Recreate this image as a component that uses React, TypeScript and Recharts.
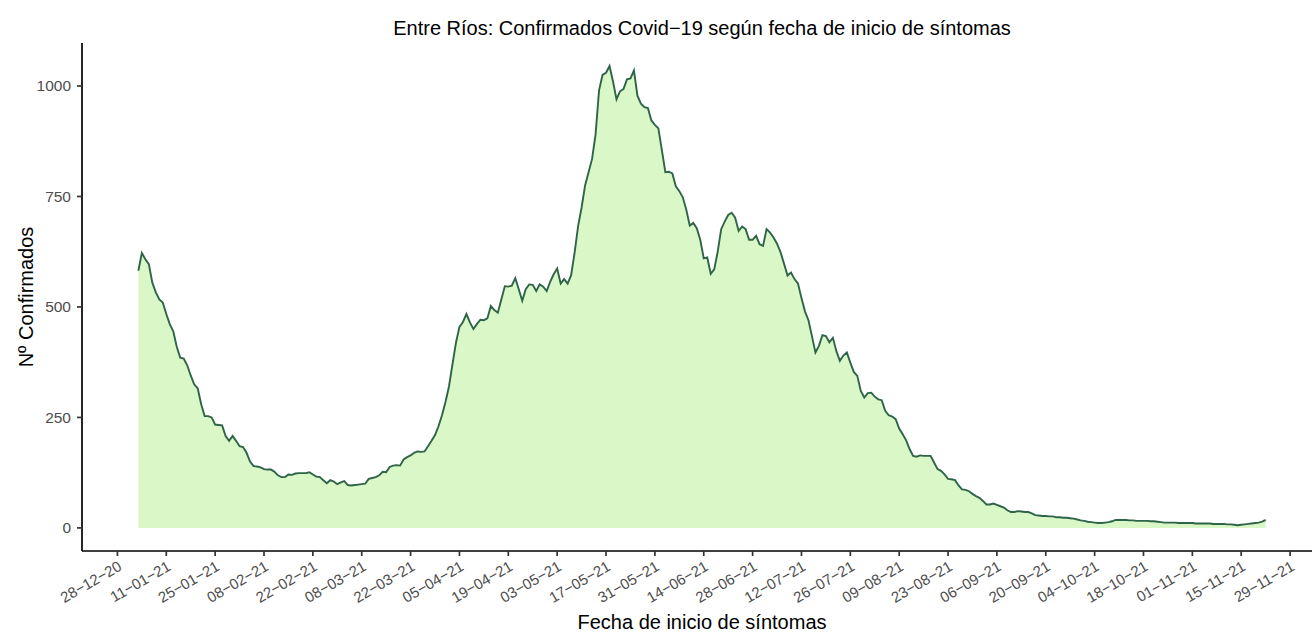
import React from "react";
import { AreaChart, Area, XAxis, YAxis } from "recharts";

// casos confirmados por fecha de inicio de síntomas (diario, desde startDate)
const startDate = "2021-01-03";

const confirmados: number[] = [
  582, 622, 608, 597, 555, 533, 517, 510, 484, 461,
  445, 410, 385, 383, 368, 345, 325, 316, 280, 253,
  253, 250, 234, 233, 232, 208, 197, 208, 197, 185,
  183, 170, 150, 140, 139, 137, 133, 132, 132, 127,
  119, 115, 115, 121, 120, 123, 124, 124, 124, 126,
  121, 116, 115, 108, 101, 108, 105, 99, 103, 106,
  97, 96, 97, 98, 99, 100, 111, 113, 115, 119,
  127, 126, 138, 141, 142, 141, 155, 160, 164, 170,
  173, 172, 173, 185, 197, 210, 230, 255, 285, 320,
  370, 419, 455, 466, 484, 465, 450, 461, 471, 470,
  474, 502, 493, 487, 517, 547, 546, 548, 565, 540,
  514, 540, 551, 550, 536, 551, 546, 536, 557, 574,
  587, 553, 563, 553, 572, 623, 683, 725, 775, 805,
  835, 890, 990, 1025, 1030, 1045, 1010, 970, 988, 993,
  1015, 1017, 1035, 978, 960, 952, 950, 922, 912, 904,
  855, 805, 806, 802, 773, 762, 748, 720, 684, 690,
  678, 652, 610, 612, 575, 585, 625, 676, 693, 708,
  713, 702, 672, 682, 676, 652, 652, 661, 642, 638,
  676, 668, 657, 643, 624, 598, 571, 578, 563, 553,
  520, 490, 470, 434, 397, 412, 436, 434, 420, 430,
  400, 378, 390, 397, 374, 353, 344, 310, 295, 305,
  306, 297, 291, 289, 265, 255, 252, 246, 225, 212,
  198, 178, 163, 161, 164, 163, 163, 163, 148, 133,
  129, 121, 111, 110, 108, 96, 87, 86, 83, 77,
  72, 68, 61, 53, 53, 55, 52, 49, 46, 40,
  36, 36, 38, 37, 36, 36, 33, 29, 28, 27,
  27, 26, 26, 24, 24, 23, 23, 22, 21, 19,
  17, 16, 14, 13, 12, 11, 11, 12, 13, 15,
  18, 18, 18, 18, 17, 17, 16, 16, 16, 16,
  15, 15, 14, 13, 12, 12, 12, 12, 11, 11,
  11, 11, 11, 10, 10, 10, 10, 10, 9, 9,
  9, 9, 8, 8, 7, 6, 7, 8, 9, 10,
  11, 12, 14, 18,
];

const xTickDates = [
  "2020-12-28", "2021-01-11", "2021-01-25", "2021-02-08", "2021-02-22",
  "2021-03-08", "2021-03-22", "2021-04-05", "2021-04-19", "2021-05-03",
  "2021-05-17", "2021-05-31", "2021-06-14", "2021-06-28", "2021-07-12",
  "2021-07-26", "2021-08-09", "2021-08-23", "2021-09-06", "2021-09-20",
  "2021-10-04", "2021-10-18", "2021-11-01", "2021-11-15", "2021-11-29",
];

const yTicks = [0, 250, 500, 750, 1000];

const DAY = 86400000;
const FONT = "'Liberation Sans', Arial, Helvetica, sans-serif";

const t0 = Date.parse(startDate);
const data = confirmados.map((v, i) => ({ t: t0 + i * DAY, v }));
const tEnd = data[data.length - 1].t;
const span = tEnd - t0;
const xDomain = [t0 - 0.05 * span, tEnd + 0.05 * span];
const xTicks = xTickDates.map((d) => Date.parse(d));
const yMax = Math.max(...confirmados);
const yDomain = [-0.05 * yMax, 1.05 * yMax];

const fmtDate = (t: number) => {
  const d = new Date(t);
  const dd = String(d.getUTCDate()).padStart(2, "0");
  const mm = String(d.getUTCMonth() + 1).padStart(2, "0");
  const yy = String(d.getUTCFullYear() % 100).padStart(2, "0");
  return `${dd}\u2212${mm}\u2212${yy}`;
};

const XTick = (props: any) => {
  const { x, y, payload } = props;
  return (
    <text
      x={x}
      y={y}
      dy="0.72em"
      textAnchor="end"
      fill="#4D4D4D"
      fontSize={15}
      fontFamily={FONT}
      transform={`rotate(-30 ${x} ${y})`}
    >
      {fmtDate(payload.value)}
    </text>
  );
};

export default function App() {
  return (
    <div
      style={{
        position: "absolute",
        left: 0,
        top: 0,
        width: 1312,
        height: 633,
        overflow: "hidden",
        background: "#fff",
        fontFamily: FONT,
      }}
    >
      <AreaChart
        width={1322}
        height={633}
        data={data}
        margin={{ top: 43, right: 0, bottom: 0, left: 0 }}
      >
        <XAxis
          type="number"
          dataKey="t"
          domain={xDomain}
          ticks={xTicks}
          interval={0}
          allowDataOverflow
          height={82}
          tick={<XTick />}
          tickSize={5}
          tickMargin={4}
          axisLine={{ stroke: "#000", strokeWidth: 1.7 }}
          tickLine={{ stroke: "#333", strokeWidth: 1.7 }}
        />
        <YAxis
          type="number"
          domain={yDomain}
          ticks={yTicks}
          interval={0}
          allowDataOverflow
          width={82}
          tickSize={5}
          tickMargin={6}
          tick={{ fill: "#4D4D4D", fontSize: 15.5, fontFamily: FONT }}
          axisLine={{ stroke: "#000", strokeWidth: 1.7 }}
          tickLine={{ stroke: "#333", strokeWidth: 1.7 }}
        />
        <Area
          type="linear"
          dataKey="v"
          baseValue={0}
          stroke="#2e6447"
          strokeWidth={1.9}
          fill="#daf7c7"
          fillOpacity={1}
          dot={false}
          activeDot={false}
          isAnimationActive={false}
        />
      </AreaChart>

      <div
        style={{
          position: "absolute",
          left: 702,
          top: 18,
          transform: "translateX(-50%)",
          fontSize: 20,
          lineHeight: "20px",
          whiteSpace: "nowrap",
          color: "#000",
        }}
      >
        Entre Ríos: Confirmados Covid{"\u2212"}19 según fecha de inicio de síntomas
      </div>
      <div
        style={{
          position: "absolute",
          left: 702,
          top: 612,
          transform: "translateX(-50%)",
          fontSize: 20,
          lineHeight: "20px",
          whiteSpace: "nowrap",
          color: "#000",
        }}
      >
        Fecha de inicio de síntomas
      </div>
      <div
        style={{
          position: "absolute",
          left: 26 - 100,
          top: 297 - 10,
          width: 200,
          textAlign: "center",
          transform: "rotate(-90deg)",
          fontSize: 20,
          lineHeight: "20px",
          whiteSpace: "nowrap",
          color: "#000",
        }}
      >
        Nº Confirmados
      </div>
    </div>
  );
}
